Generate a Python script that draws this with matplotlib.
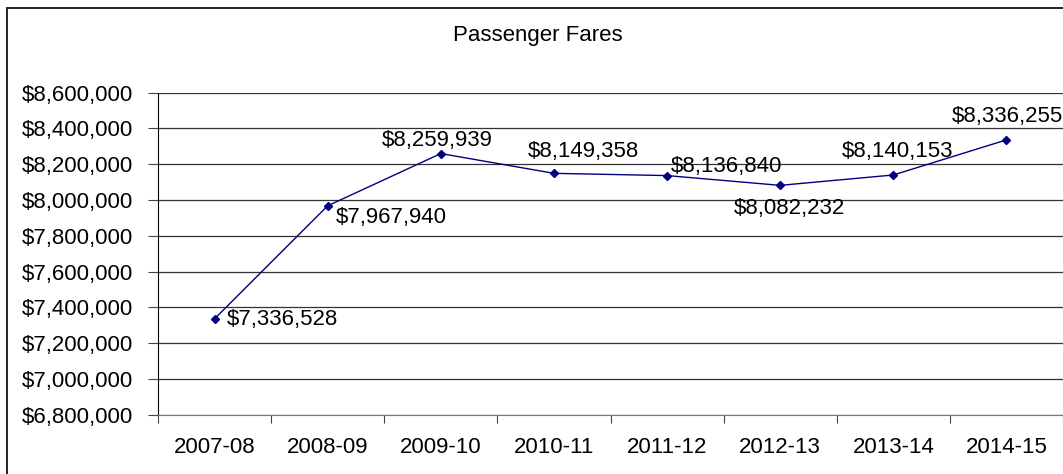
#!/usr/bin/env python

"""Passenger fares by fiscal year, Excel-style line chart."""

import matplotlib.pyplot as plt
from matplotlib.patches import Rectangle
from matplotlib.ticker import FuncFormatter, FixedLocator

years = ["2007-08", "2008-09", "2009-10", "2010-11",
         "2011-12", "2012-13", "2013-14", "2014-15"]
fares = [7336528, 7967940, 8259939, 8149358,
         8136840, 8082232, 8140153, 8336255]

# label placement per point: (dx, dy) in pixels, horizontal alignment
label_offsets = [(12, -1), (8, -12), (-4, 13), (29, 22),
                 (4, 9), (9, -23), (4, 23), (1, 23)]
label_ha = ["left", "left", "center", "center",
            "left", "center", "center", "center"]

plt.rcParams["font.family"] = ["Liberation Sans", "DejaVu Sans"]
fs = 16

fig = plt.figure(figsize=(10.63, 4.74), dpi=100)
W, H = 1063, 474
ax = fig.add_axes([158 / W, 1 - 414.8 / H, 1 - 158 / W, (414.8 - 92.7) / H])

# chart border
fig.patches.append(Rectangle((7 / W, -0.05), 1.1, 1 - 7.5 / H + 0.05,
                             transform=fig.transFigure, fill=False,
                             edgecolor="#222222", linewidth=1.4))

x = list(range(len(years)))
ax.plot(x, fares, color="#000080", linewidth=1.0, marker="D",
        markersize=4.5, zorder=3)

for i, v in enumerate(fares):
    dx, dy = label_offsets[i]
    ax.annotate(f"${v:,.0f}", (i, v), xytext=(dx, dy),
                textcoords="offset pixels", ha=label_ha[i], va="center",
                fontsize=fs, color="black", annotation_clip=False)

ax.set_xlim(-0.5, len(years) - 0.5)
ax.set_ylim(6800000, 8600000)
ax.set_yticks(range(6800000, 8600001, 200000))
ax.yaxis.set_major_formatter(FuncFormatter(lambda v, p: f"${v:,.0f}"))
ax.yaxis.grid(True, color="#333333", linewidth=0.9)
ax.set_axisbelow(True)

ax.xaxis.set_major_locator(FixedLocator([i - 0.5 for i in range(len(years) + 1)]))
ax.xaxis.set_major_formatter(FuncFormatter(lambda v, p: ""))
ax.xaxis.set_minor_locator(FixedLocator(x))
ax.set_xticklabels(years, minor=True)
ax.tick_params(axis="x", which="major", length=6, color="#444444", direction="out")
ax.tick_params(axis="x", which="minor", length=0, labelsize=fs, pad=16)
ax.tick_params(axis="y", length=7, color="#444444", labelsize=fs, pad=11)

for s in ["top", "right"]:
    ax.spines[s].set_visible(False)
ax.spines["left"].set_color("black")
ax.spines["bottom"].set_color("#777777")

fig.text(538 / W, 1 - 36 / H, "Passenger Fares", ha="center", va="center",
         fontsize=fs)

fig.savefig("out.png", dpi=100)
